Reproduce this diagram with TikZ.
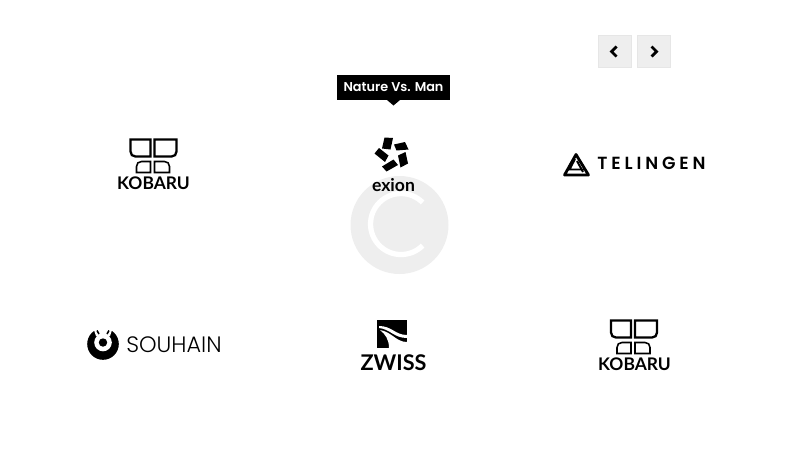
\documentclass[tikz,border=0pt]{standalone}
\usepackage{xcolor}
\usepackage{fontspec}
\setmainfont{Lato}
\newfontfamily\thinfont{Poppins Light}
\newfontfamily\tipfont{Poppins SemiBold}
\newfontfamily\wideletters[LetterSpace=22]{Poppins SemiBold}
\definecolor{btnfill}{HTML}{EEEEEE}
\definecolor{btnedge}{HTML}{E6E6E6}
\tikzset{
  logotext/.style={inner sep=0pt,text=black,font=\bfseries\fontsize{9.9}{10}\selectfont},
  navbtn/.style={draw=btnedge,fill=btnfill,line width=0.5pt,minimum width=0.67cm,minimum height=0.65cm,inner sep=0pt},
  chevron/.style={draw=black,line width=1.6pt,line cap=butt,line join=miter},
  tipbox/.style={fill=black,text=white,minimum width=2.26cm,minimum height=0.5cm,inner sep=0pt,font=\tipfont\fontsize{7.3}{9}\selectfont},
  kobarupart/.style={draw=black,line width=1.3pt},
  kobarusmall/.style={draw=black,line width=0.9pt},
  pics/kobaru/.style={code={
    \draw[kobarupart] (-23,0) -- (-3,0) -- (-3,17) -- (-18,17) .. controls (-21,17) and (-23,15) .. (-23,12) -- cycle;
    \draw[kobarupart] (23,0) -- (1,0) -- (1,17) -- (18,17) .. controls (21,17) and (23,15) .. (23,12) -- cycle;
    \draw[kobarusmall] (-3,22) -- (-12,22) .. controls (-15,22) and (-17,24) .. (-17,27) -- (-17,33) -- (-3,33) -- cycle;
    \draw[kobarusmall] (1,22) -- (11,22) .. controls (14,22) and (16,24) .. (16,27) -- (16,33) -- (1,33) -- cycle;
  }}
}
\begin{document}
\begin{tikzpicture}[x=0.02cm,y=-0.02cm]
\useasboundingbox (0,0) rectangle (800,450);

% loader behind the logos
\fill[btnfill] (399.5,225) circle (49);
\draw[white,line width=3pt] (422.6,245.6) arc (45:315:30.5);

% prev and next
\node[navbtn] (prevbtn) at (615,51.5) {};
\node[navbtn] (nextbtn) at (654,51.5) {};
\draw[chevron] ([xshift=0.03cm,yshift=0.1cm]prevbtn.center) -- ([xshift=-0.07cm]prevbtn.center) -- ([xshift=0.03cm,yshift=-0.1cm]prevbtn.center);
\draw[chevron] ([xshift=-0.05cm,yshift=0.1cm]nextbtn.center) -- ([xshift=0.05cm]nextbtn.center) -- ([xshift=-0.05cm,yshift=-0.1cm]nextbtn.center);

% tooltip
\node[tipbox] (tip) at (393.5,87.5) {\raisebox{-0.5pt}{Nature Vs. Man}};
\fill[black] (387,100) -- (393.5,105.5) -- (400,100) -- cycle;

% row one
\pic at (153.5,139.5) {kobaru};
\node[logotext] (kobaruone) at (153.5,183) {KOBARU};

\fill[black] (384.5,137.5) -- (393,138) -- (390.5,149.5) -- (382,148.5) -- cycle;
\fill[black] (394,144.5) -- (405,142) -- (408.5,149.5) -- (396.5,150.5) -- cycle;
\fill[black] (398,155.5) -- (405.5,152) -- (408,163.5) -- (400.5,167.5) -- cycle;
\fill[black] (382,166.5) -- (393.5,159.5) -- (398,165) -- (386.5,171.5) -- cycle;
\fill[black] (374.5,153.5) -- (379,148) -- (388.5,155.5) -- (385,162) -- cycle;
\node[logotext,font=\fontsize{10}{10}\selectfont\bfseries] (exion) at (393.5,185) {exion};

\draw[black,fill=white,line width=1.6pt,line join=round] (576,154.5) -- (588.5,175) -- (564.5,175) -- cycle;
\draw[black,line width=1.1pt] (575,159) -- (569.5,169.5) -- (584,169.5);
\draw[black,line width=1.1pt] (577,161) -- (583,172);
\node[logotext,font=\wideletters\fontsize{10}{10}\selectfont,anchor=west] (telingen) at (597,163.5) {TELINGEN};

% row two
\fill[black] (103,344) circle (15.8);
\fill[white] (103,342.5) circle (8.8);
\fill[white] (93,327) -- (113,327) -- (110,336) -- (96,336) -- cycle;
\fill[black] (103,342.5) circle (4.2);
\draw[black,line width=0.9pt] (97,330.5) -- (99,334);
\draw[black,line width=0.9pt] (109,330.5) -- (107,334);
\node[logotext,font=\thinfont\fontsize{12.7}{12}\selectfont,anchor=west] (souhain) at (126,344.5) {SOUHAIN};

\fill[black] (377,320) rectangle (407,348);
\fill[white] (379,326) .. controls (392,326) and (395,335) .. (407,335) -- (407,338) .. controls (394,338) and (390,329) .. (379,328) -- cycle;
\fill[white] (389,348) .. controls (389,339) and (385,334) .. (380,330) .. controls (392,332) and (396,342) .. (407,342) -- (407,348) -- cycle;
\node[logotext,font=\bfseries\fontsize{12.3}{11}\selectfont] (zwiss) at (393.5,363) {ZWISS};

\pic at (634,320.5) {kobaru};
\node[logotext] (kobarutwo) at (634.5,364) {KOBARU};
\end{tikzpicture}
\end{document}
